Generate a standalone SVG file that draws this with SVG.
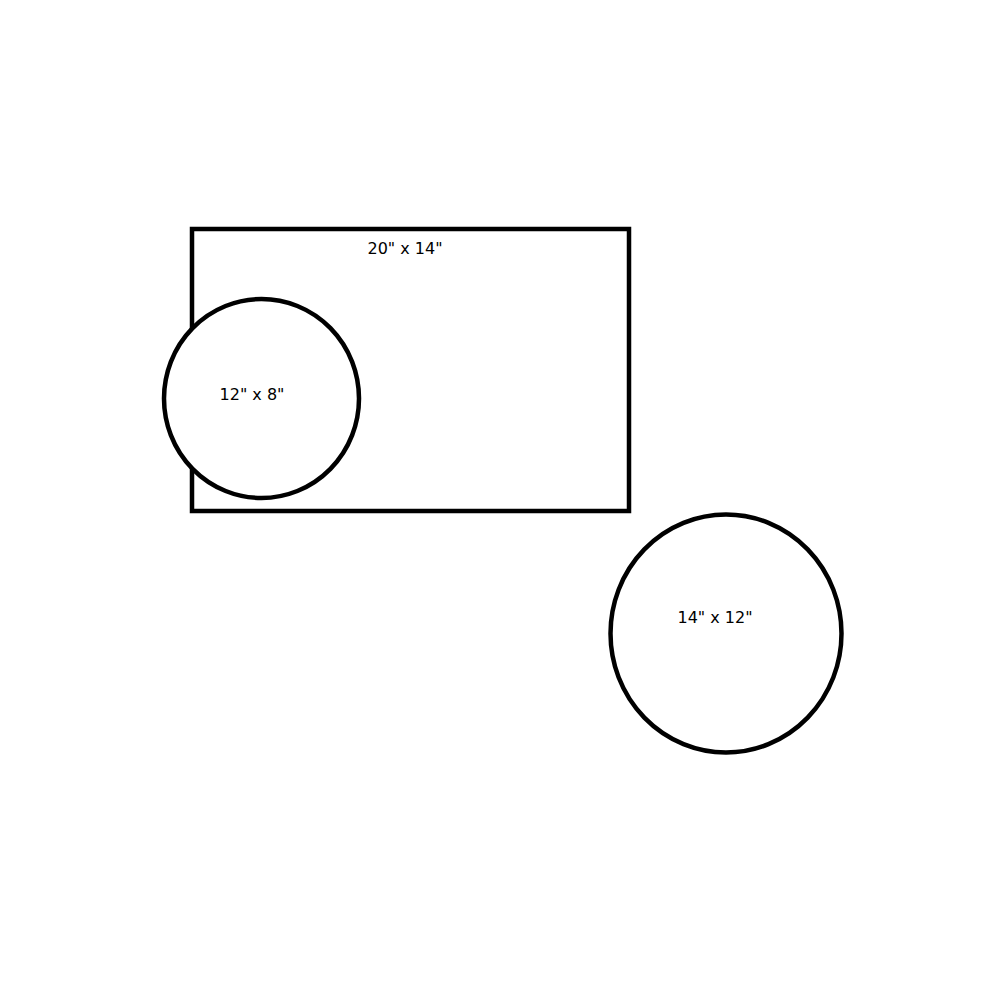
<svg xmlns="http://www.w3.org/2000/svg" width="1000" height="1000" viewBox="0 0 1000 1000">
<style>
.shape{fill:#fff;stroke:#000;stroke-width:4.5}
.lbl{font-family:"DejaVu Sans",Verdana,sans-serif;font-size:16px;fill:#000;text-anchor:middle}
</style>
<rect width="1000" height="1000" fill="#fff"/>
<g id="rect-20x14">
<rect class="shape" x="192" y="229" width="437" height="282"/>
<text class="lbl" x="405" y="254">20" x 14"</text>
</g>
<g id="circle-12x8">
<ellipse class="shape" cx="261.5" cy="398.5" rx="97.5" ry="99.5"/>
<text class="lbl" x="252" y="400">12" x 8"</text>
</g>
<g id="circle-14x12">
<ellipse class="shape" cx="726" cy="633.5" rx="115.5" ry="119"/>
<text class="lbl" x="715" y="623">14" x 12"</text>
</g>
<g id="connectors"/>
</svg>
